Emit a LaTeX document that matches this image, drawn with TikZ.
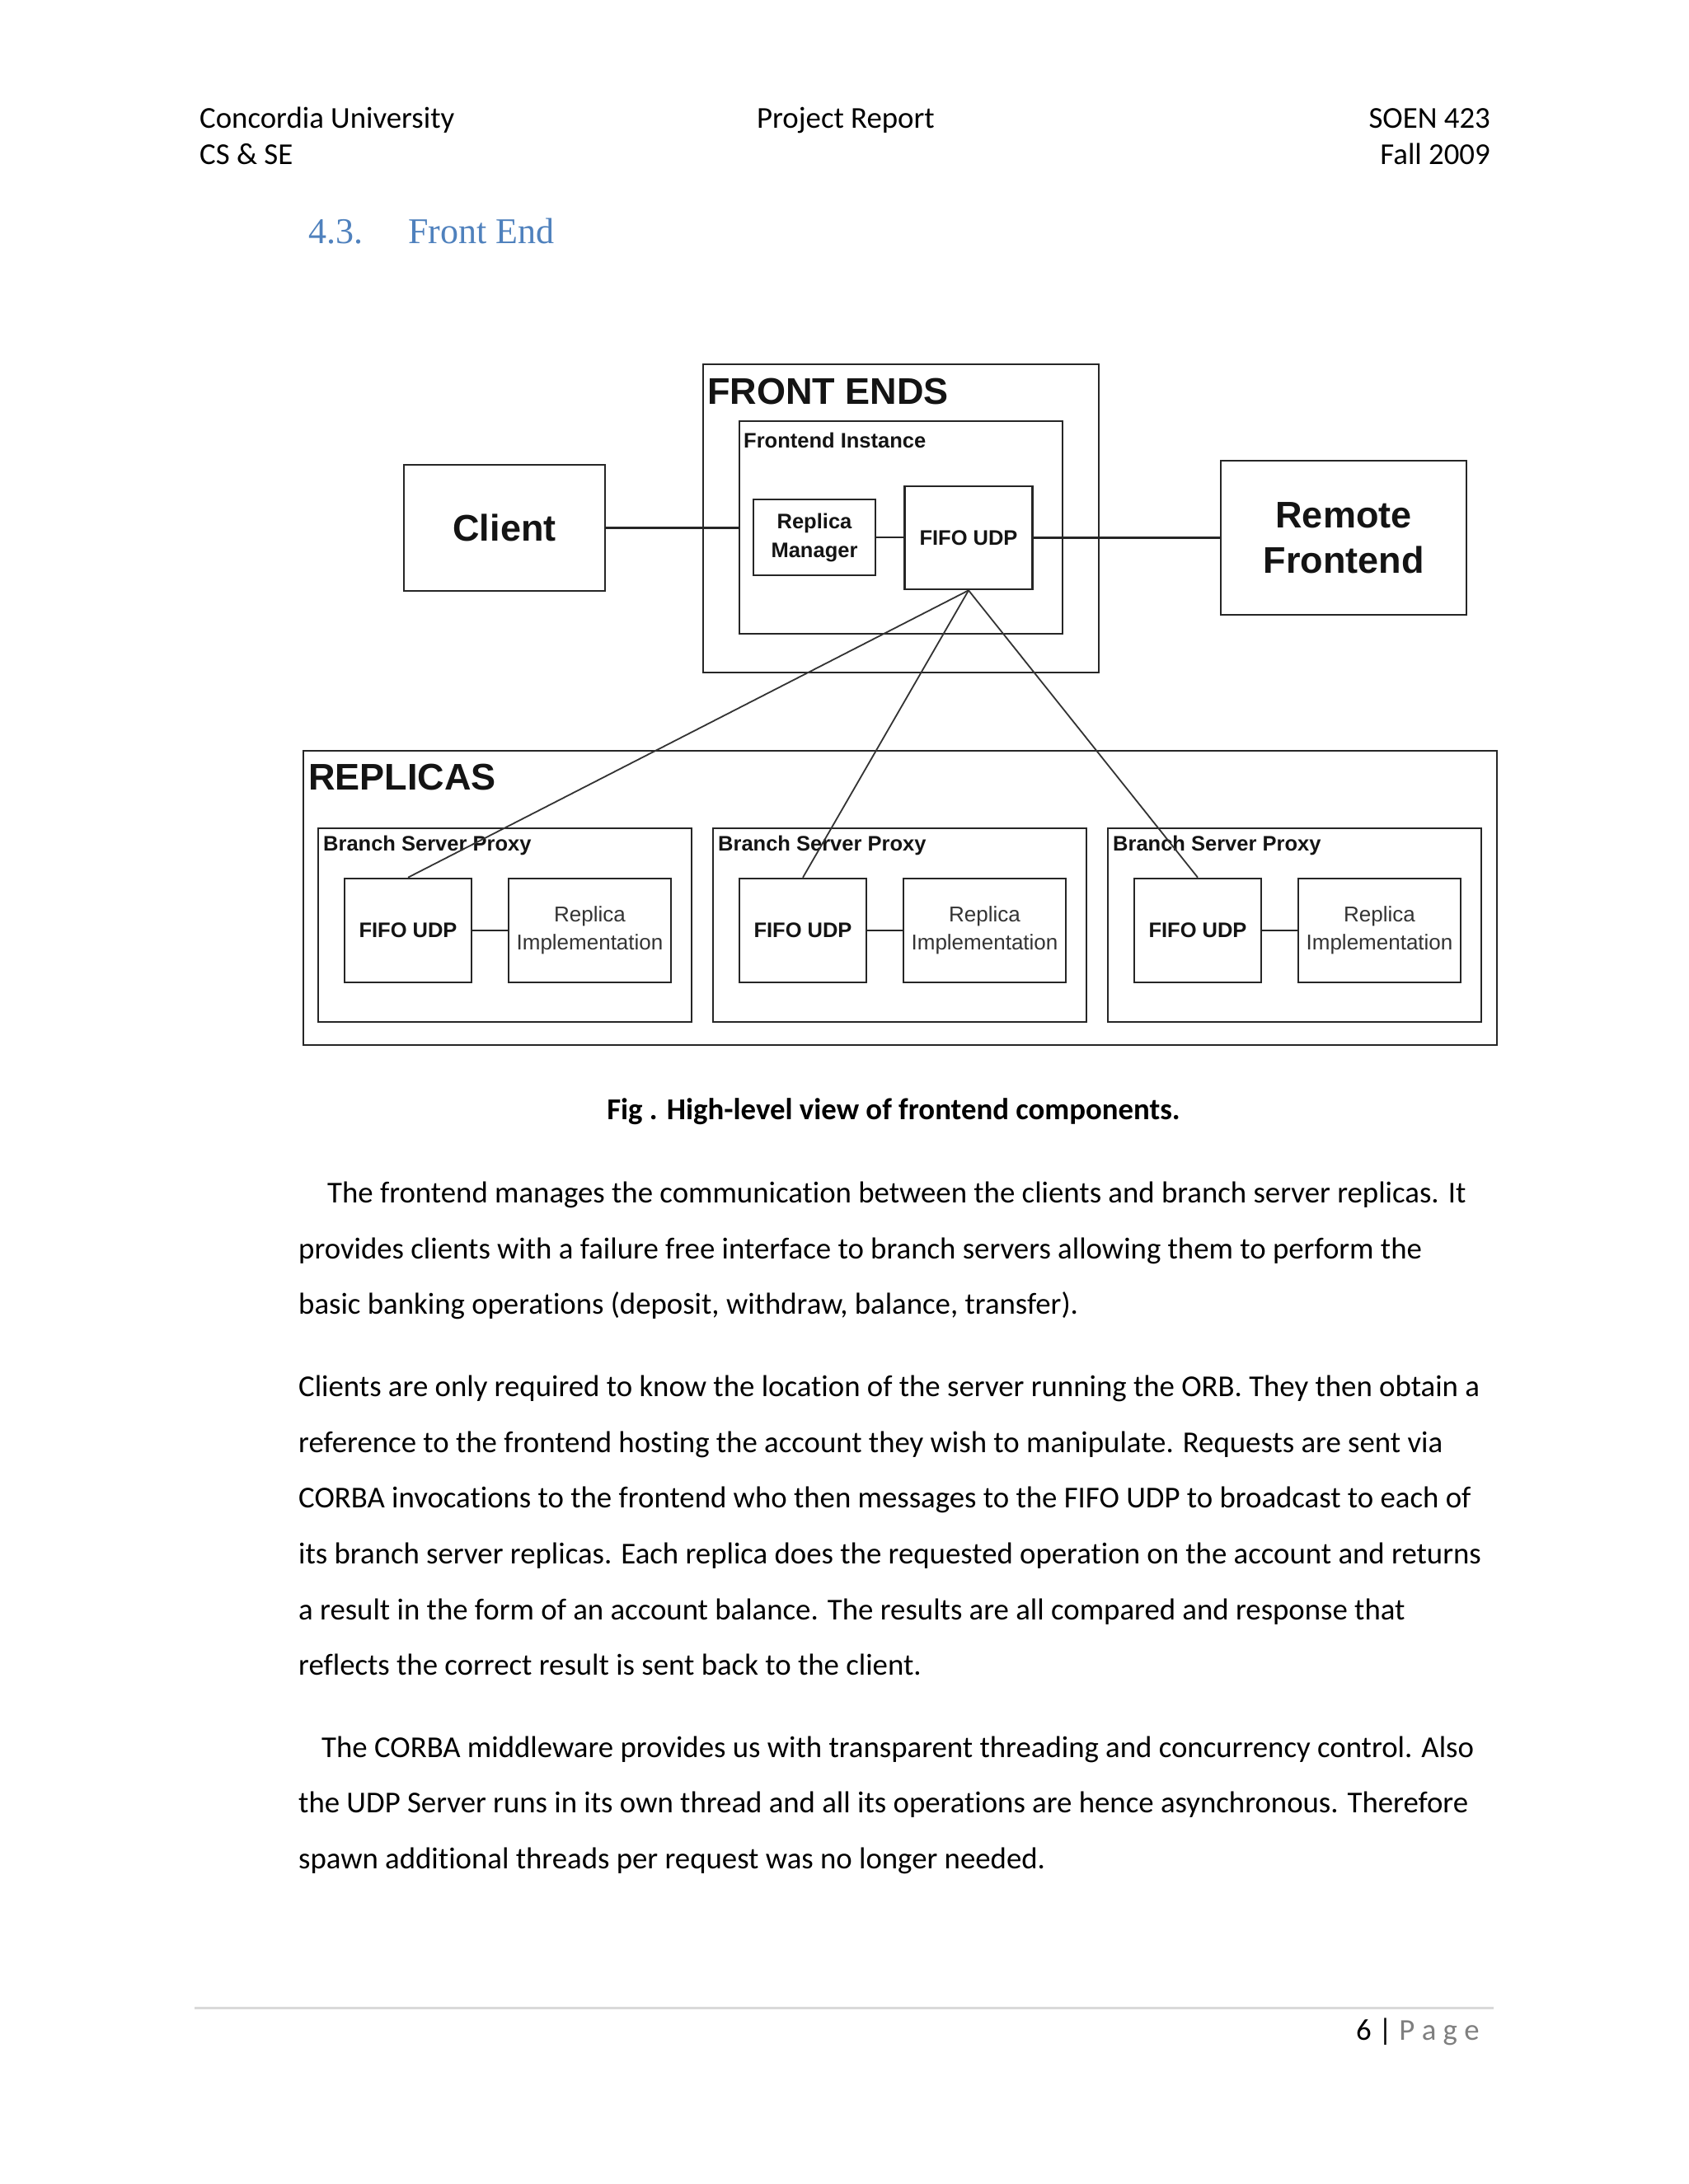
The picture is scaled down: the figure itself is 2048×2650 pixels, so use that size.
\documentclass[tikz,border=0pt]{standalone}
\usepackage{fontspec}
\setmainfont{Carlito}[Ligatures=NoCommon]
\newfontfamily\diafont{Liberation Sans}
\newfontfamily\headfont{Liberation Serif}
\definecolor{headblue}{RGB}{79,129,189}
\definecolor{footgray}{RGB}{217,217,217}
\definecolor{pagegray}{RGB}{127,127,127}
\begin{document}
\begin{tikzpicture}[x=1pt,y=-1pt,
  body/.style={anchor=base west, inner sep=0pt, font=\fontsize{36.8}{44}\selectfont},
  boxnode/.style={draw=black!85, line width=2.6pt, inner sep=0pt, anchor=center, fill=none},
  bigtxt/.style={inner sep=0pt, align=center, text=black!92, font={\diafont\bfseries\fontsize{45}{55}\selectfont}},
  midtxt/.style={inner sep=0pt, align=center, text=black!92, font={\diafont\bfseries\fontsize{25.5}{35}\selectfont}},
  impltxt/.style={inner sep=0pt, align=center, text=black!80, font={\diafont\fontsize{26}{34}\selectfont}},
  link/.style={draw=black!85, line width=2.6pt},
  thinlink/.style={draw=black!80, line width=1.8pt}
]
\useasboundingbox[fill=white] (0,0) rectangle (2048,2650);

% header
\node[body] (h1) at (242,155) {Concordia University};
\node[body] (h2) at (242,199) {CS \& SE};
\node[body] (h3) at (918,155) {Project Report};
\node[body, anchor=base east] (h4) at (1808,155) {SOEN 423};
\node[body, anchor=base east] (h5) at (1808,199) {Fall 2009};

% section heading
\node[anchor=base west, inner sep=0pt, text=headblue, font={\headfont\fontsize{44}{50}\selectfont}] (secnum) at (374,295) {4.3.};
\node[anchor=base west, inner sep=0pt, text=headblue, font={\headfont\fontsize{44}{50}\selectfont}] (sectitle) at (495,295) {Front End};

% diagram boxes
\node[boxnode, minimum width=480pt, minimum height=374pt] (fe) at (1093,629) {};
\node[boxnode, minimum width=392pt, minimum height=258pt] (fi) at (1093,640) {};
\node[boxnode, minimum width=244pt, minimum height=153pt] (client) at (612,640.5) {};
\node[boxnode, minimum width=148pt, minimum height=92pt] (rm) at (988,652) {};
\node[boxnode, minimum width=155pt, minimum height=125pt] (ffifo) at (1175,652.5) {};
\node[boxnode, minimum width=298pt, minimum height=187pt] (remote) at (1630,652.5) {};
\node[boxnode, minimum width=1448pt, minimum height=357pt] (rep) at (1092,1089.5) {};

\node[bigtxt, anchor=base west] (fetxt) at (858,490) {FRONT ENDS};
\node[midtxt, anchor=base west] (fitxt) at (902,543) {Frontend Instance};
\node[bigtxt] (clienttxt) at (client.center) {Client};
\node[midtxt] (rmtxt) at (rm.center) {Replica\\Manager};
\node[midtxt] (ffifotxt) at (ffifo.center) {FIFO UDP};
\node[bigtxt] (remotetxt) at (remote.center) {Remote\\Frontend};
\node[bigtxt, anchor=base west] (reptxt) at (374,958) {REPLICAS};

\foreach \i/\L in {1/386,2/865,3/1344}{
  \node[boxnode, minimum width=453pt, minimum height=235pt] (bsp\i) at (\L+226.5,1122.5) {};
  \node[boxnode, minimum width=154pt, minimum height=126pt] (fifo\i) at (\L+109,1129) {};
  \node[boxnode, minimum width=197pt, minimum height=126pt] (ri\i) at (\L+329.5,1129) {};
  \node[midtxt, anchor=base west] (bsptxt\i) at (\L+6,1032) {Branch Server Proxy};
  \node[midtxt] (fifotxt\i) at (fifo\i.center) {FIFO UDP};
  \node[impltxt] (ritxt\i) at (ri\i.center) {Replica\\Implementation};
  \draw[link] (fifo\i.east) -- (ri\i.west);
}

% connectors
\draw[link] (client.east) -- (client.east -| fi.west);
\draw[link] (rm.east) -- (rm.east -| ffifo.west);
\draw[link] (ffifo.east) -- (remote.west);
\draw[thinlink] (ffifo.south) -- (fifo1.north);
\draw[thinlink] (ffifo.south) -- (fifo2.north);
\draw[thinlink] (ffifo.south) -- (fifo3.north);

% caption
\node[anchor=base, inner sep=0pt, font={\bfseries\fontsize{36.8}{44}\selectfont}] (caption) at (1084,1358) {Fig . High-level view of frontend components.};

% body text
\node[body] (p1a) at (397,1459) {The frontend manages the communication between the clients and branch server replicas. It};
\node[body] (p1b) at (362,1527) {provides clients with a failure free interface to branch servers allowing them to perform the};
\node[body] (p1c) at (362,1594) {basic banking operations (deposit, withdraw, balance, transfer).};

\node[body] (p2a) at (362,1694) {Clients are only required to know the location of the server running the ORB. They then obtain a};
\node[body] (p2b) at (362,1762) {reference to the frontend hosting the account they wish to manipulate. Requests are sent via};
\node[body] (p2c) at (362,1829) {CORBA invocations to the frontend who then messages to the FIFO UDP to broadcast to each of};
\node[body] (p2d) at (362,1897) {its branch server replicas. Each replica does the requested operation on the account and returns};
\node[body] (p2e) at (362,1965) {a result in the form of an account balance. The results are all compared and response that};
\node[body] (p2f) at (362,2032) {reflects the correct result is sent back to the client.};

\node[body] (p3a) at (390,2132) {The CORBA middleware provides us with transparent threading and concurrency control. Also};
\node[body] (p3b) at (362,2199) {the UDP Server runs in its own thread and all its operations are hence asynchronous. Therefore};
\node[body] (p3c) at (362,2267) {spawn additional threads per request was no longer needed.};

% footer
\coordinate (fl) at (236,2436);
\coordinate (fr) at (1812,2436);
\draw[footgray, line width=3pt] (fl) -- (fr);
\node[body] (pagenum) at (1645,2475) {6 | {\color{pagegray}P a g e}};
\end{tikzpicture}
\end{document}
